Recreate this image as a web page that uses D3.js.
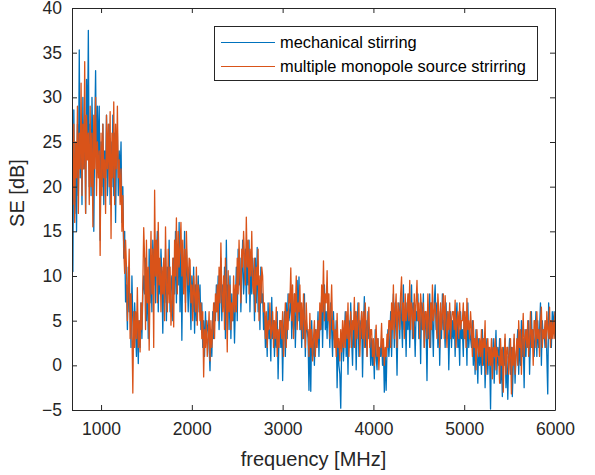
<!DOCTYPE html>
<html>
<head>
<meta charset="utf-8">
<script src="https://cdn.jsdelivr.net/npm/d3@7"></script>
<style>
    body { margin: 0; background: #fff; }
    text { font-family: "Liberation Sans", Arial, sans-serif; }
</style>
</head>
<body>
<div id="chart"></div>
<script>
// sampling grid of the measurement, MHz
let freqStart = 680;
let freqStep = 10;

// shielding effectiveness, dB (one row = 100 MHz)
let mechanicalSE = [
    20, 10.5, 28.6, 17, 24, 15, 27, 19, 35.3, 21,
    26, 18, 30, 22, 28, 17, 32, 24, 37.5, 20,
    27, 19, 30, 24, 15, 26, 33, 21, 29, 23,
    29, 14, 25, 20, 27, 18, 24, 21, 28, 19,
    22, 27, 18, 25, 20, 28, 19, 26, 16, 24,
    26, 19, 24, 21, 25, 16, 20, 12, 15, 7.1,
    9, 4, 11, 6, 8, 2, 10, 5, 3, 7,
    4, 1, 6, 0.2, 5, 2, 7, 3, 8, 10,
    8, 12, 5, 10, 3, 13, 7, 11, 6, 14,
    9, 14, 7, 12, 15, 6, 11, 8, 13, 10,
    3.6, 10, 7, 13, 5, 11, 8, 14, 6, 9,
    10, 5, 12, 8, 15, 7, 13, 9, 16, 6,
    14, 2.8, 12, 9, 15, 7, 13, 10, 6, 11,
    8, 4, 10, 6, 11, 3.6, 9, 5, 7, 10,
    6, 9, 4, 7, 2, 5, 1, 6, 3, 4,
    5, 2, -0.6, 4, 1, 6, 3, 7, 5, 9,
    6, 10, 4, 8, 12, 5, 9, 7, 11, 3,
    14, 6, 9, 4, 10, 3, 8, 5, 7, 2.5,
    7, 11, 5, 13, 9, 12, 6, 10, 14, 8,
    10, 13, 7, 12, 9, 14, 6, 11, 8, 12,
    10, 5, 12, 7, 13.2, 6, 9, 4, 11, 7,
    8, 4, 6, 2, 5, 1, 7, 3, 4, 0.5,
    7.6, 3, 5, 1, 4, 2, 6, -1.5, 3, 5,
    2, 5, -1.7, 4, 6, 1, 7, 3, 8, 5,
    6, 9, 3, 7, 4, 8, 2, 6, 9.5, 5,
    9.9, 4, 7, 2, 6, 3, 8, 1, 5, 4,
    3, -2.8, 4, -2.9, 5, 1, 3, 0, 4, 2,
    3, 6, 1, 5, 4, 8, 2, 7, 9, 4,
    6, 3, 8, 5, 2, 7, 4, 1, 6, 3,
    2, 5, -2.5, 3, 0, -1, -4.8, 2, 4, 0.5,
    3, 6, 1, 4, -1, 5, 2, 7, 3, 0,
    5, 2, 6, -0.5, 4, 7, 1, 5, 3, 6,
    -1.3, 4, 7.7, 2, 5, 1, 6, 3, 4, 0,
    3, 0, 2, -1.5, 4, 1, -0.5, 3, 0.5, 2,
    1, 3, 0, 2, -3, 1.5, -2.8, 2, 4, 1,
    3, 6, 1, 5, 8, 2, 7, 4, -1.1, 5,
    7, 3, 8, 5, 2, 9, 4, 6, 1, 7,
    4, 8, 2, 6, 9, 3, 7, 5, 1, 6,
    5, 8, 3, 6, 0.2, 7, 4, 8, 2, 6,
    4, -1.7, 6, 3, 8, 2, 7, 5, 1, 7,
    9, 4, 7, 2, 6, 0, 5, 3, 8, 4,
    5, 2, 7, 3, 6, -0.5, 4, 6, 2, 5,
    3, 6, 1, 5, 7, 2, 4, 0, 6, 3,
    4, 1, 6, 3, 5, 0, 7, 2, 4, 3,
    2, 5, 0, 3, -1, 4, 1, -2, 3, 0,
    2, -1, 4, 0, 3, -2.5, 1, 3, -1, 2,
    1, -4.9, 2, 0, 3, -2, 1, 3.9, -1, 2,
    0, 3, -2, 1, -3.5, 2, 0, 3, -2.5, 1,
    -3.8, 1, 3, -1, 2, -3.5, 0, 3, -2, 1,
    2, 4, -1, 3, 0, 5, 1, 3, -2.5, 4,
    1, 4, 2, 5, -1, 3, 6, 2, 4, 1,
    3, 6, 1, 5, 2, 4, 7, 0, 5, 3,
    4, 2, 5, 1, -3.2, 7, 3, 5, 2, 6,
    4, 6, 3
];

let monopoleSE = [
    23, 18, 27, 16, 25, 21, 29, 17, 26, 22,
    31.6, 19, 27, 22, 34, 17, 28, 23, 26, 18,
    29, 20, 26, 15.5, 28, 22, 30, 19, 25, 21,
    24, 12.3, 26, 19, 27, 21, 23, 17, 28, 22,
    27, 20, 28.4, 14.2, 26, 21, 29.5, 18, 27, 22,
    29, 21, 23, 18, 22, 15, 19, 13, 10.3, 14,
    11, 5, 9, 13, 3, 8, 4, -3.1, 6, 2,
    6, 3, 8.7, 2, 5, 1.5, 7, 4, 9, 15.4,
    12, 4, 14, 7, 11, 1.7, 9, 15, 8, 13,
    2, 19.6, 10, 14, 7, 16, 9, 12, 6, 11,
    8, 12, 5, 15.5, 9, 6, 13, 7, 11, 4.5,
    7, 12, 4.3, 14, 10, 16.5, 8, 15, 11, 13,
    16, 10, 14, 8, 13, 6, 15, 11, 9, 12,
    11.8, 7, 9, 5, 10, 8, 6, 11, 4.5, 9,
    8, 5, 7, 3, 6, -1.3, 4, 2, 5, 1,
    3, 6, 0.5, 5, 2, 4, 7, 3, 8, 6,
    9, 5, 11, 7, 13.7, 8, 6, 10, 4, 12,
    8, 1.5, 10.6, 6, 9, 4, 7, 5, 10, 6,
    9, 6, 12, 8, 14, 10, 7, 13, 11, 15,
    12, 9, 16.6, 11, 14, 8, 13, 10, 15, 9,
    8, 12, 6, 11, 9, 13, 5, 10, 7, 11,
    10, 6, 7, 3, 6, 2, 5, 4, 7, 3,
    4, 6, 2, 5, 3, 6.5, 1, 4, 2, 5,
    5, 3, 6, 1, 4, 7, 2, 6, 4, 8,
    7, 10.9, 5, 9, 3, 8, 6, 10, 4, 7,
    6, 9, 4, 7, 3, 8, 5, 2, 7, 4,
    4, 1, 5.8, 2, 4, 0.5, 3, 5, 1, 4,
    2, 5, 3, 7, 4, 9, 6, 11.7, 5, 8,
    7, 10.6, 5, 8, 3, 6, 9, 4, 5, 2,
    4, 1, 5.8, 2, 3, 0.5, 4, 1.5, 5, 2,
    5, 2, 6, 3, 7, 1, 4, 6, 2, 5,
    4, 7.6, 2, 6, 3, 5, 7, 1, 4, 6,
    3, 6, 2, 7, 4, 1, 5, 6.5, 2, 4,
    4, 1, 3, 0, 2.5, 4.5, 1, 3, -0.5, 2,
    2, 4.7, 1, 3, 0, 2, 1, 3.5, 2, 5,
    5, 2, 7, 4, 9, 3, 6, 8, 2, 7,
    6, 4, 8, 9.9, 5, 7, 3, 8, 5, 6,
    8, 5, 9.5, 4, 7, 6, 3, 8, 5, 7,
    9.5, 5, 7, 3, 8, 6, 4, 7, 2, 6,
    6, 3, 8, 5, 2, 7, 4, 9, 5, 6,
    7, 5, 3, 8, 6, 2, 7, 4, 6, 8,
    3, 7.8, 5, 2, 6, 4, 7, 3, 5, 6,
    6, 4, 7.3, 2, 5, 6, 3, 7, 4, 5,
    5, 7, 3, 6, 2, 7.5, 4, 5, 3, 6,
    4, 1, 5, 2, 3, -0.5, 4, 2, 1, 3,
    1, 4, 0, 3, 2, 5, -1, 2, 3, 0,
    2, 0, 3, -1.5, 2, 1, 3, -0.5, 2, 1,
    1, -2, 3, 0, 2, -3, 1, 3.5, -1, 2,
    2, -1, 1, 3, -3.2, 2, 0, 3.5, -1, 1,
    3, 0, 5, 2, 4, -1, 3, 5.8, 1, 3,
    4, 2, 5, 1, 3, 6, 2, 4, 0, 5,
    5, 2, 6, 3, 4, 1, 5, 6.5, 2, 4,
    3, 5, 2, 6, 4, 3, 6.5, 2, 5, 3,
    5, 3, 6
];

let xTicks = [1000, 2000, 3000, 4000, 5000, 6000];
let yTicks = [-5, 0, 5, 10, 15, 20, 25, 30, 35, 40];
let seriesNames = ["mechanical stirring", "multiple monopole source strirring"];
let seriesColors = ["#0072BD", "#D95319"];

let width = 595, height = 475;
let plotLeft = 72, plotRight = 555, plotTop = 8, plotBottom = 410;
let axisColor = "#262626";

let svg = d3.select('#chart')
    .append('svg')
    .attr('width', width)
    .attr('height', height);

let x = d3.scaleLinear()
    .domain([680, 6000])
    .range([plotLeft, plotRight]);
let y = d3.scaleLinear()
    .domain([-5, 40])
    .range([plotBottom, plotTop]);

svg.append('clipPath')
    .attr('id', 'plotClip')
    .append('rect')
    .attr('x', plotLeft)
    .attr('y', plotTop)
    .attr('width', plotRight - plotLeft)
    .attr('height', plotBottom - plotTop);

let freqOf = i => freqStart + i * freqStep;
let line = d3.line()
    .x((d, i) => x(freqOf(i)))
    .y(d => y(d));

[mechanicalSE, monopoleSE].forEach(function (values, k) {
    svg.append('path')
        .attr('d', line(values))
        .attr('clip-path', 'url(#plotClip)')
        .style('fill', 'none')
        .style('stroke-width', '1.3')
        .style('stroke-linejoin', 'round')
        .attr('stroke', seriesColors[k]);
});

// box with inward ticks on all four sides
let tickFont = '17.5px';
svg.append('g')
    .attr('transform', 'translate(0,' + plotBottom + ')')
    .attr('color', axisColor)
    .call(d3.axisBottom(x).tickValues(xTicks).tickFormat(d3.format('d'))
        .tickSizeInner(-5).tickSizeOuter(0).tickPadding(13))
    .selectAll('text')
    .style('font-size', tickFont)
    .attr('fill', axisColor);
svg.append('g')
    .attr('transform', 'translate(0,' + plotTop + ')')
    .attr('color', axisColor)
    .call(d3.axisTop(x).tickValues(xTicks).tickSizeInner(-5).tickSizeOuter(0).tickFormat(''));
svg.append('g')
    .attr('transform', 'translate(' + plotLeft + ',0)')
    .attr('color', axisColor)
    .call(d3.axisLeft(y).tickValues(yTicks).tickFormat(d3.format('d'))
        .tickSizeInner(-5).tickSizeOuter(0).tickPadding(10))
    .selectAll('text')
    .style('font-size', tickFont)
    .attr('fill', axisColor);
svg.append('g')
    .attr('transform', 'translate(' + plotRight + ',0)')
    .attr('color', axisColor)
    .call(d3.axisRight(y).tickValues(yTicks).tickSizeInner(-5).tickSizeOuter(0).tickFormat(''));

svg.append('text')
    .attr('x', (plotLeft + plotRight) / 2)
    .attr('y', 466)
    .attr('text-anchor', 'middle')
    .attr('fill', axisColor)
    .style('font-size', '20px')
    .text('frequency [MHz]');

svg.append('text')
    .attr('transform', 'translate(24,193) rotate(-90)')
    .attr('text-anchor', 'middle')
    .attr('fill', axisColor)
    .style('font-size', '20px')
    .text('SE [dB]');

// legend
let legend = svg.append('g');
legend.append('rect')
    .attr('x', 214.5)
    .attr('y', 26.5)
    .attr('width', 323)
    .attr('height', 54)
    .attr('fill', '#fff')
    .attr('stroke', axisColor)
    .attr('stroke-width', 1);
seriesNames.forEach(function (name, k) {
    let ly = 42 + k * 24;
    legend.append('line')
        .attr('x1', 221)
        .attr('x2', 275)
        .attr('y1', ly + 0.5)
        .attr('y2', ly + 0.5)
        .attr('stroke', seriesColors[k])
        .attr('stroke-width', 1);
    legend.append('text')
        .attr('x', 280)
        .attr('y', ly)
        .attr('dy', '0.35em')
        .attr('fill', '#000')
        .style('font-size', '16.4px')
        .text(name);
});
</script>
</body>
</html>
